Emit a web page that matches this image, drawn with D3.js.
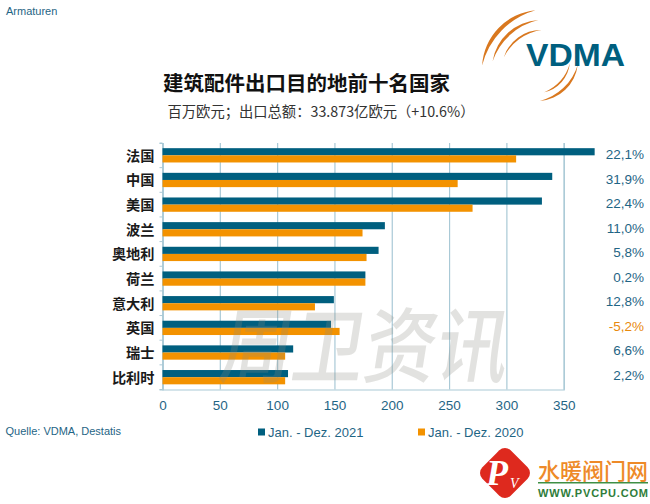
<!DOCTYPE html>
<html><head><meta charset="utf-8">
<script src="https://cdnjs.cloudflare.com/ajax/libs/d3/7.8.5/d3.min.js"></script>
<style>html,body{margin:0;padding:0;background:#fff}svg{display:block}</style>
</head><body><svg id="c" width="650" height="504"></svg>
<script>
const categories=["法国","中国","美国","波兰","奥地利","荷兰","意大利","英国","瑞士","比利时"];
const values2021=[377,340,331,194,188.5,177,149.5,147,114,109.5];
const values2020=[308.5,257.5,270.5,174.5,178,177,133,154.5,107,107];
const changes=["22,1%","31,9%","22,4%","11,0%","5,8%","0,2%","12,8%","-5,2%","6,6%","2,2%"];
const xTicks=[0,50,100,150,200,250,300,350];
const series=["Jan. - Dez. 2021","Jan. - Dez. 2020"];
const TEAL="#005f7f",ORANGE="#f39200",TXT="#1f6585",GRID="#a9c9d6";
const CJK="'Noto Sans CJK SC','Noto Sans',sans-serif",LAT="'Liberation Sans',Arial,sans-serif";
const svg=d3.select("#c");
const x=d3.scaleLinear().domain([0,350]).range([162.5,563.7]);
const y=d3.scaleBand().domain(categories).range([143,389.5]);
const yLab=d3.scalePoint().domain(categories).range([154.5,375]);
const inner=y.bandwidth()*0.29;

const grid=svg.append("g").attr("transform","translate(0,389.5)")
 .call(d3.axisBottom(x).tickValues(xTicks).tickSize(-246.5).tickPadding(11));
grid.select(".domain").attr("stroke",GRID).attr("stroke-width",1.2);
grid.selectAll("line").attr("stroke",GRID).attr("stroke-width",1.2);
grid.selectAll("text").attr("fill",TXT).attr("font-family",LAT).attr("font-size",13.5);

const left=svg.append("g").attr("transform","translate(162.5,0)")
 .call(d3.axisLeft(y).tickSize(3).tickFormat(""));
left.select(".domain").attr("stroke",GRID).attr("stroke-width",1.2);
left.selectAll(".tick").remove();
svg.append("g").selectAll("line").data(d3.range(categories.length+1)).join("line")
 .attr("x1",159.5).attr("x2",162.5)
 .attr("y1",i=>y.range()[0]+i*y.step()).attr("y2",i=>y.range()[0]+i*y.step())
 .attr("stroke",GRID);

const rows=svg.append("g").selectAll("g").data(categories).join("g");
rows.append("rect").attr("x",x(0)).attr("y",d=>y(d)+y.bandwidth()/2-inner)
 .attr("width",(d,i)=>x(values2021[i])-x(0)).attr("height",inner).attr("fill",TEAL);
rows.append("rect").attr("x",x(0)).attr("y",d=>y(d)+y.bandwidth()/2)
 .attr("width",(d,i)=>x(values2020[i])-x(0)).attr("height",inner).attr("fill",ORANGE);
rows.append("text").attr("x",154.5).attr("y",d=>y(d)+y.bandwidth()/2-0.5)
 .attr("text-anchor","end").attr("dominant-baseline","central")
 .attr("font-family",CJK).attr("font-weight",700).attr("font-size",14.2).attr("fill","#1a1a1a").text(d=>d);
rows.append("text").attr("x",644).attr("y",d=>yLab(d))
 .attr("text-anchor","end").attr("dominant-baseline","central")
 .attr("font-family",LAT).attr("font-size",13.5)
 .attr("fill",(d,i)=>changes[i][0]==="-"?"#e8890c":TXT).text((d,i)=>changes[i]);

// watermark
svg.append("text").attr("transform","translate(361,376) skewX(-9)").attr("text-anchor","middle")
 .attr("font-family",CJK).attr("font-size",82).attr("font-weight",500)
 .attr("fill","#8a8a80").attr("opacity",0.24).attr("textLength",288)
 .attr("lengthAdjust","spacingAndGlyphs").text("周卫资讯");

// headings
svg.append("text").attr("x",6).attr("y",15).attr("font-family",LAT).attr("font-size",11).attr("fill",TXT).text("Armaturen");
svg.append("text").attr("x",306.5).attr("y",91).attr("text-anchor","middle").attr("font-family",CJK)
 .attr("font-weight",700).attr("font-size",20.5).attr("fill","#111").text("建筑配件出口目的地前十名国家");
svg.append("text").attr("x",321).attr("y",117).attr("text-anchor","middle").attr("font-family",CJK)
 .attr("font-size",14.3).attr("fill","#333").text("百万欧元；出口总额：33.873亿欧元（+10.6%）");
svg.append("text").attr("x",5.5).attr("y",435).attr("font-family",LAT).attr("font-size",11).attr("fill",TXT).text("Quelle: VDMA, Destatis");

// legend
const lg=svg.append("g").selectAll("g").data(series).join("g")
 .attr("transform",(d,i)=>`translate(${i?418:258},0)`);
lg.append("rect").attr("y",428.5).attr("width",7).attr("height",7).attr("fill",(d,i)=>i?ORANGE:TEAL);
lg.append("text").attr("x",10).attr("y",436.5).attr("font-family",LAT).attr("font-size",13).attr("fill",TXT).text(d=>d);

// VDMA logo
const logo=svg.append("g").attr("fill","#d9781f");
function cres(cx,cy,r,a0,a1){
 const P=(rad,a)=>[cx+rad*Math.cos(a),cy+rad*Math.sin(a)];
 const s=P(r,a0),e=P(r,a1),R2=r*1.3;
 return `M${s}A${r} ${r} 0 0 1 ${e}A${R2} ${R2} 0 0 0 ${s}Z`;
}
[[59,3.2,4.62],[49,3.3,4.66],[39,3.45,4.72]].forEach(a=>logo.append("path").attr("d",cres(541,69,a[0],a[1],a[2])));
[[41,0.12,1.5],[33,0.1,1.35]].forEach(a=>logo.append("path").attr("d",cres(537,60,a[0],a[1],a[2])));
svg.append("text").attr("x",526).attr("y",65.5).attr("font-family",LAT).attr("font-weight",700)
 .attr("font-size",31).attr("fill","#005f7f").attr("textLength",99).attr("lengthAdjust","spacingAndGlyphs").text("VDMA");

// site badge
svg.append("rect").attr("x",-20).attr("y",-20).attr("width",40).attr("height",40).attr("rx",8)
 .attr("fill","#de291e").attr("transform","translate(505,473) rotate(45)");
svg.append("text").attr("x",497).attr("y",485).attr("text-anchor","middle").attr("font-family","'Liberation Serif',serif")
 .attr("font-style","italic").attr("font-weight",700).attr("font-size",36).attr("fill","#fff").text("P");
svg.append("text").attr("x",510).attr("y",488).attr("font-family","'Liberation Serif',serif")
 .attr("font-style","italic").attr("font-size",14).attr("fill","#fff").text("V");
svg.append("text").attr("x",538).attr("y",478.5).attr("font-family",CJK).attr("font-weight",500).attr("font-size",22)
 .attr("fill","#ee8a28").attr("textLength",110).attr("lengthAdjust","spacingAndGlyphs").text("水暖阀门网");
svg.append("rect").attr("x",538).attr("y",482).attr("width",110).attr("height",1.5).attr("fill","#3f8f45");
svg.append("text").attr("x",538).attr("y",497).attr("font-family",LAT).attr("font-weight",700).attr("font-size",11)
 .attr("fill","#2f7d3a").attr("textLength",110).attr("lengthAdjust","spacing").text("WWW.PVCPU.COM");
</script></body></html>
